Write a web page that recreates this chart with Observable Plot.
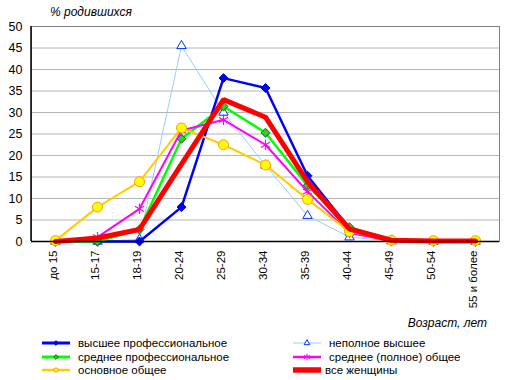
<!DOCTYPE html>
<html>
<head>
<meta charset="utf-8">
<script src="https://cdn.jsdelivr.net/npm/d3@7"></script>
<script src="https://cdn.jsdelivr.net/npm/@observablehq/plot@0.6"></script>
<style>
  body { margin: 0; background: #fff; font-family: "Liberation Sans", Arial, sans-serif; }
  #wrap { position: relative; width: 513px; height: 380px; overflow: hidden; }
  #chart { position: absolute; left: 0; top: 0; }
  .ttl { position: absolute; font-style: italic; font-size: 12px; color: #000; white-space: nowrap; }
  .leg { position: absolute; font-size: 11.5px; color: #000; white-space: nowrap; display: flex; align-items: center; height: 14px; }
  .leg svg { margin-right: 8px; }
</style>
</head>
<body>
<div id="wrap">
  <div id="chart"></div>
  <div class="ttl" style="left:50px; top:5px;">% родившихся</div>
  <div class="ttl" style="right:26px; top:316px;">Возраст, лет</div>
  <div id="legend"></div>
</div>
<script>
const ages = ["до 15","15-17","18-19","20-24","25-29","30-34","35-39","40-44","45-49","50-54","55 и более"];
const seriesNames = ["высшее профессиональное","неполное высшее","среднее профессиональное","среднее  (полное) общее","основное общее","все женщины"];
const higherProf      = [0, 0, 0, 8, 38, 35.7, 15.3, 3, 0.2, 0, 0];
const incompleteHigher= [0, 0, 0.5, 45.5, 30, 17.7, 6, 1, 0.1, 0, 0];
const secondaryProf   = [0, 0, 2.8, 23.9, 31.4, 25.3, 13, 3.3, 0.3, 0, 0];
const secondaryGen    = [0, 1, 7.6, 25.8, 28.3, 22.5, 11.6, 2, 0.1, 0, 0];
const basicGen        = [0.2, 8, 13.9, 26.4, 22.5, 17.8, 9.8, 2.3, 0.3, 0.2, 0.2];
const allWomen        = [0, 0.8, 2.8, 18, 33, 28.9, 13.9, 2.9, 0.3, 0.1, 0.1];
const yTicks = [0,5,10,15,20,25,30,35,40,45,50];

const styles = [
  {name: seriesNames[0], values: higherProf,       stroke: "#0000ff", width: 2.5, symbol: "diamond2", r: 4,   fill: "#0000ff", mstroke: "#0000cc"},
  {name: seriesNames[1], values: incompleteHigher, stroke: "#99ccff", width: 1,   symbol: "triangle", r: 3.5, fill: "#ffffff", mstroke: "#0033ff"},
  {name: seriesNames[2], values: secondaryProf,    stroke: "#00ff00", width: 2.5, symbol: "diamond2", r: 4,   fill: "#33cc33", mstroke: "#006600"},
  {name: seriesNames[3], values: secondaryGen,     stroke: "#ff00ff", width: 2,   symbol: "asterisk", r: 5,   fill: "none",    mstroke: "#ff00ff"},
  {name: seriesNames[4], values: basicGen,         stroke: "#ffcc00", width: 2,   symbol: "circle",   r: 5,   fill: "#ffff00", mstroke: "#ff9900"},
  {name: seriesNames[5], values: allWomen,         stroke: "#ff0000", width: 5,   symbol: null}
];

const order = [1, 0, 2, 3, 4, 5];
const marks = [
  Plot.gridY(yTicks, {stroke: "#b4b4b4", strokeOpacity: 1, strokeWidth: 1}),
  Plot.frame({stroke: "#808080"}),
];
for (const i of order) {
  const s = styles[i];
  const data = ages.map((a, k) => ({age: a, v: s.values[k]}));
  marks.push(Plot.line(data, {x: "age", y: "v", stroke: s.stroke, strokeWidth: s.width, strokeLinejoin: "miter"}));
  if (s.symbol) {
    marks.push(Plot.dot(data, {x: "age", y: "v", symbol: s.symbol, r: s.r, fill: s.fill, stroke: s.mstroke, strokeWidth: s.symbol === "asterisk" ? 1.2 : 1}));
  }
}
marks.push(Plot.ruleY([0], {stroke: "#000", strokeWidth: 1.5}));
marks.push(Plot.axisY(yTicks, {tickSize: 0, tickPadding: 9, fontSize: 12.5, label: null}));
marks.push(Plot.axisX({tickRotate: -90, tickSize: 0, tickPadding: 9, fontSize: 11.5, label: null, dx: -2}));

const chart = Plot.plot({
  width: 513,
  height: 312,
  marginLeft: 31,
  marginRight: 14,
  marginTop: 26,
  marginBottom: 71,
  style: {fontFamily: "'Liberation Sans', Arial, sans-serif", color: "#000", background: "transparent", overflow: "visible"},
  x: {type: "point", domain: ages, padding: 0.5},
  y: {domain: [0, 50]},
  marks
});
document.getElementById("chart").appendChild(chart);
// left axis line in black
const svg = d3.select(chart);
svg.append("line").attr("x1", 31).attr("x2", 31).attr("y1", 26).attr("y2", 241).attr("stroke", "#000").attr("stroke-width", 1.5);

// legend
const legPos = [
  {i: 0, left: 42, top: 336}, {i: 1, left: 293, top: 336},
  {i: 2, left: 42, top: 350}, {i: 3, left: 293, top: 350},
  {i: 4, left: 42, top: 363}, {i: 5, left: 293, top: 363}
];
const legend = document.getElementById("legend");
for (const p of legPos) {
  const s = styles[p.i];
  const div = document.createElement("div");
  div.className = "leg";
  div.style.left = p.left + "px";
  div.style.top = p.top + "px";
  const sw = d3.create("svg").attr("width", 28).attr("height", 14);
  sw.append("line").attr("x1", 0).attr("x2", 28).attr("y1", 7).attr("y2", 7)
    .attr("stroke", s.stroke).attr("stroke-width", s.width === 1 ? 1 : s.width + 0.5);
  if (s.symbol) {
    const sym = {diamond2: d3.symbolDiamond2, triangle: d3.symbolTriangle, asterisk: d3.symbolAsterisk, circle: d3.symbolCircle}[s.symbol];
    sw.append("path").attr("transform", "translate(14,7)")
      .attr("d", d3.symbol(sym, s.symbol === "asterisk" ? 30 : 14)())
      .attr("fill", s.fill).attr("stroke", s.mstroke).attr("stroke-width", 1);
  }
  if (p.i === 5) sw.attr("width", 30);
  div.appendChild(sw.node());
  const t = document.createElement("span");
  t.textContent = s.name;
  div.appendChild(t);
  if (p.i === 5) sw.style("margin-right", "2px");
  legend.appendChild(div);
}
</script>
</body>
</html>
